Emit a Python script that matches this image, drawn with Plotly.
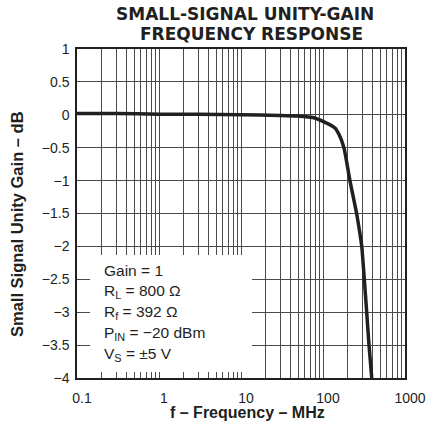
import plotly.graph_objects as go

# Data
freq_mhz = [0.1, 0.3, 1, 3, 10, 30, 50, 75, 100, 140, 157, 180, 213, 257, 288, 297, 319, 341, 364, 393]
gain_db = [0.02, 0.02, 0.01, 0.01, 0.0, -0.01, -0.02, -0.04, -0.1, -0.2, -0.3, -0.5, -1.0, -1.5, -1.88, -2.0, -2.5, -3.0, -3.5, -4.0]

x_major_vals = [0.1, 1, 10, 100, 1000]
x_major_text = ["0.1", "1", "10", "100", "1000"]
x_minor_vals = [m * 10 ** e for e in range(-1, 3) for m in range(2, 10)]
y_tick_vals = [1, 0.5, 0, -0.5, -1, -1.5, -2, -2.5, -3, -3.5, -4]
y_tick_text = ["1", "0.5", "0", "\u22120.5", "\u22121", "\u22121.5", "\u22122", "\u22122.5", "\u22123", "\u22123.5", "\u22124"]

legend_lines = ["Gain = 1", "R<sub>L</sub> = 800 \u03a9", "R<sub>f</sub> = 392 \u03a9",
                "P<sub>IN</sub> = \u221220 dBm", "V<sub>S</sub> = \u00b15 V"]
title_lines = ["SMALL-SIGNAL UNITY-GAIN", "FREQUENCY RESPONSE"]
x_title = "f \u2013 Frequency \u2013 MHz"
y_title = "Small Signal Unity Gain \u2013 dB"

FONT = "Liberation Sans, Arial, Helvetica, sans-serif"
TFONT = "DejaVu Sans, Liberation Sans, Arial, sans-serif"
W, H = 429, 434
# plot area in pixels: x 77..405, y 49..378
L, T = 77, 49
pw, ph = 405 - 77, 378 - 49
R = W - L - pw
B = H - T - ph
GRID = "#4a4a4a"
INK = "#231f20"


def py(p):  # pixel y -> paper
    return (T + ph - p) / ph


def px(p):  # pixel x -> paper
    return (p - L) / pw


fig = go.Figure()
fig.add_trace(go.Scatter(
    x=freq_mhz, y=gain_db, mode="lines",
    line=dict(color=INK, width=3.5, shape="spline", smoothing=0.6),
    showlegend=False, hoverinfo="skip"))

fig.update_layout(
    width=W, height=H,
    margin=dict(l=L, r=R, t=T, b=B, autoexpand=False),
    paper_bgcolor="white", plot_bgcolor="white",
    font=dict(family=FONT, color=INK),
    showlegend=False,
)

fig.update_xaxes(
    type="log", range=[-1, 3], automargin=False,
    tickvals=x_major_vals, ticktext=x_major_text,
    showgrid=True, gridcolor=GRID, gridwidth=1.2,
    minor=dict(tickvals=x_minor_vals, showgrid=True, gridcolor=GRID, gridwidth=1.2, ticks=""),
    showline=True, linecolor=INK, linewidth=1.5, mirror=True,
    ticks="", tickfont=dict(size=14, family=FONT, color=INK),
    ticklabelshift=5, ticklabelstandoff=6,
    zeroline=False,
)
fig.update_yaxes(
    range=[-4, 1], automargin=False,
    tickvals=y_tick_vals, ticktext=y_tick_text,
    showgrid=True, gridcolor=GRID, gridwidth=1.2,
    showline=True, linecolor=INK, linewidth=1.5, mirror=True,
    ticks="", tickfont=dict(size=14, family=FONT, color=INK),
    ticklabelstandoff=3,
    zeroline=False,
)

# axis titles
fig.add_annotation(text="<b>" + x_title + "</b>", xref="paper", yref="paper",
                   x=px(247), y=py(412), xanchor="center", yanchor="middle",
                   showarrow=False, font=dict(size=16, family=FONT, color=INK))
fig.add_annotation(text="<b>" + y_title + "</b>", xref="paper", yref="paper",
                   x=px(17), y=py(224), xanchor="center", yanchor="middle",
                   textangle=-90, showarrow=False,
                   font=dict(size=16.5, family=FONT, color=INK))

# white box for the condition text
fig.add_shape(type="rect", xref="x domain", yref="y domain",
              x0=px(90), x1=px(252), y0=py(372), y1=py(255),
              fillcolor="white", line=dict(width=0), layer="above")

centers = [270, 291, 312, 333, 354]
for txt, c in zip(legend_lines, centers):
    fig.add_annotation(text=txt, xref="paper", yref="paper", x=px(102), y=py(c),
                       xanchor="left", yanchor="middle", showarrow=False,
                       font=dict(size=15.5, family=FONT, color=INK))

for txt, c, cx in zip(title_lines, [14, 34], [245, 251]):
    fig.add_annotation(text="<b>" + txt + "</b>", xref="paper", yref="paper",
                       x=px(cx), y=py(c), xanchor="center", yanchor="middle",
                       borderpad=0, showarrow=False,
                       font=dict(size=17, family=TFONT, color=INK))

fig.write_html("out.html", config={"displayModeBar": False},
               post_script="document.body.style.margin='0px';")
